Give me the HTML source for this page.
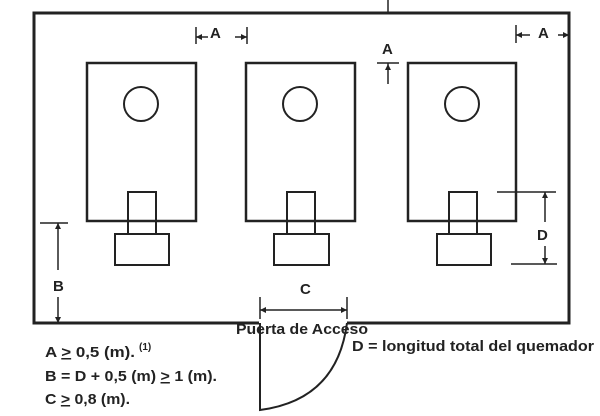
<!DOCTYPE html><html><head><style>body{margin:0;background:#fff}svg{display:block}text{font-family:"Liberation Sans",sans-serif;fill:#222}</style></head><body>
<svg width="600" height="416" viewBox="0 0 600 416" xmlns="http://www.w3.org/2000/svg">
<g fill="none" stroke="#222">
<path d="M259,323 H34 V13 H569 V323 H347" stroke-width="3"/>
<line x1="388" y1="0" x2="388" y2="13" stroke-width="1.5"/>
<g stroke-width="2.5">
<rect x="87" y="63" width="109" height="158"/>
<rect x="246" y="63" width="109" height="158"/>
<rect x="408" y="63" width="108" height="158"/>
</g>
<g stroke-width="2">
<circle cx="141" cy="104" r="17"/><circle cx="300" cy="104" r="17"/><circle cx="462" cy="104" r="17"/>
<path d="M128,221 V192 H156 V221 M128,221 V234 M156,221 V234"/>
<rect x="115" y="234" width="54" height="31"/>
<path d="M287,221 V192 H315 V221 M287,221 V234 M315,221 V234"/>
<rect x="274" y="234" width="55" height="31"/>
<path d="M449,221 V192 H477 V221 M449,221 V234 M477,221 V234"/>
<rect x="437" y="234" width="54" height="31"/>
</g>
<g stroke-width="1.5">
<line x1="196" y1="27" x2="196" y2="44"/><line x1="247" y1="27" x2="247" y2="44"/>
<line x1="196" y1="37" x2="208" y2="37"/><line x1="235" y1="37" x2="247" y2="37"/>
<line x1="377" y1="63" x2="399" y2="63"/><line x1="388" y1="63" x2="388" y2="84"/>
<line x1="516" y1="25" x2="516" y2="43"/><line x1="516" y1="35" x2="530" y2="35"/><line x1="558" y1="35" x2="569" y2="35"/>
<line x1="497" y1="192" x2="556" y2="192"/><line x1="511" y1="264" x2="557" y2="264"/>
<line x1="545" y1="192" x2="545" y2="222"/><line x1="545" y1="246" x2="545" y2="264"/>
<line x1="40" y1="223" x2="68" y2="223"/><line x1="58" y1="223" x2="58" y2="270"/><line x1="58" y1="297" x2="58" y2="323"/>
<line x1="260" y1="297" x2="260" y2="319"/><line x1="347" y1="297" x2="347" y2="319"/><line x1="260" y1="310" x2="347" y2="310"/>
<path d="M260,323 V410 Q337,400 347,323" stroke-width="2"/>
</g>
</g>
<g fill="#222">
<path d="M196,37 l6,-3 v6z M247,37 l-6,-3 v6z M388,64 l-3,6 h6z M516,35 l6,-3 v6z M569,35 l-6,-3 v6z M545,192 l-3,6 h6z M545,264 l-3,-6 h6z M58,223 l-3,6 h6z M58,323 l-3,-6 h6z M260,310 l6,-3 v6z M347,310 l-6,-3 v6z"/>
</g>
<g font-size="15" font-weight="bold">
<text x="210" y="38">A</text><text x="382" y="54">A</text><text x="538" y="38">A</text>
<text x="537" y="240">D</text><text x="53" y="291">B</text><text x="300" y="294">C</text>
</g>
<g font-size="15" font-weight="bold">
<text x="236" y="334" textLength="132" lengthAdjust="spacingAndGlyphs">Puerta de Acceso</text>
<text x="352" y="351" textLength="242" lengthAdjust="spacingAndGlyphs">D = longitud total del quemador</text>
<text x="45" y="357" textLength="90" lengthAdjust="spacingAndGlyphs">A <tspan text-decoration="underline">&gt;</tspan> 0,5 (m).</text>
<text x="139" y="350" font-size="10">(1)</text>
<text x="45" y="381" textLength="172" lengthAdjust="spacingAndGlyphs">B = D + 0,5 (m) <tspan text-decoration="underline">&gt;</tspan> 1 (m).</text>
<text x="45" y="404" textLength="85" lengthAdjust="spacingAndGlyphs">C <tspan text-decoration="underline">&gt;</tspan> 0,8 (m).</text>
</g>
</svg></body></html>
